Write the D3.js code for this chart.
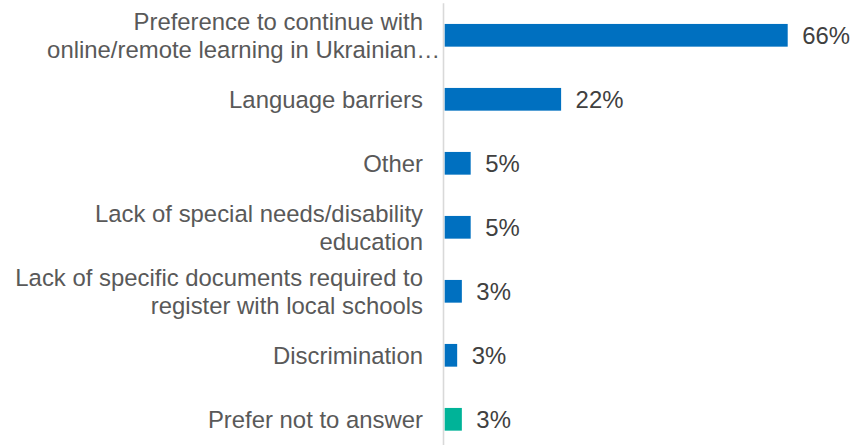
<!DOCTYPE html>
<html>
<head>
<meta charset="utf-8">
<script src="https://cdn.jsdelivr.net/npm/d3@7"></script>
<style>
  html, body { margin: 0; padding: 0; background: #ffffff; }
  svg { display: block; font-family: "Liberation Sans", Arial, sans-serif; }
</style>
</head>
<body>
<svg id="chart" width="866" height="445"></svg>
<script>
// ---- data ----
const categories = [
  ["Preference to continue with", "online/remote learning in Ukrainian\u2026"],
  ["Language barriers"],
  ["Other"],
  ["Lack of special needs/disability", "education"],
  ["Lack of specific documents required to", "register with local schools"],
  ["Discrimination"],
  ["Prefer not to answer"]
];
const values = [66, 22.4, 5, 5, 3.3, 2.4, 3.3];
const valueLabels = ["66%", "22%", "5%", "5%", "3%", "3%", "3%"];
const barColors = ["#0070C0", "#0070C0", "#0070C0", "#0070C0", "#0070C0", "#0070C0", "#00B398"];

// ---- layout ----
const svg = d3.select("#chart");
const fontSize = 23.9;
const lineH = 28;
const idx = d3.range(categories.length);

const y = d3.scaleBand()
  .domain(idx)
  .range([3.3, 451.3])
  .paddingInner(0.645)
  .paddingOuter(0.3225);

const x = d3.scaleLinear()
  .domain([0, 66])
  .range([444.7, 787.7]);

// axis (vertical line only)
const axis = d3.axisLeft(y).tickSize(0).tickFormat(() => "");
const gAxis = svg.append("g")
  .attr("transform", "translate(443.5,0)")
  .call(axis);
gAxis.select(".domain")
  .attr("d", `M0,${y.range()[0]}V${y.range()[1]}`)
  .attr("stroke", "#d9d9d9")
  .attr("stroke-width", 1.6);
gAxis.selectAll(".tick").remove();

// bars
svg.append("g").selectAll("rect")
  .data(idx)
  .join("rect")
  .attr("x", x(0))
  .attr("y", i => y(i))
  .attr("width", i => x(values[i]) - x(0))
  .attr("height", y.bandwidth())
  .attr("fill", i => barColors[i]);

// category labels
const labelX = 423;
const gLab = svg.append("g")
  .attr("font-size", fontSize)
  .attr("fill", "#595959");

idx.forEach(i => {
  const lines = categories[i];
  const cy = y(i) + y.bandwidth() / 2;
  const n = lines.length;
  lines.forEach((ln, k) => {
    const t = gLab.append("text")
      .attr("text-anchor", "end")
      .attr("dominant-baseline", "central")
      .attr("y", cy + (k - (n - 1) / 2) * lineH)
      .text(ln);
    let xx = labelX;
    if (ln.endsWith("\u2026")) {
      // ellipsis overflows the label box, like the original
      const probe = gLab.append("text").text("\u2026");
      xx += probe.node().getComputedTextLength() * 0.72;
      probe.remove();
    }
    t.attr("x", xx);
  });
});

// value labels
svg.append("g")
  .attr("font-size", fontSize)
  .attr("fill", "#404040")
  .selectAll("text")
  .data(idx)
  .join("text")
  .attr("x", i => x(values[i]) + 14.5)
  .attr("y", i => y(i) + y.bandwidth() / 2)
  .attr("dominant-baseline", "central")
  .text(i => valueLabels[i]);
</script>
</body>
</html>
